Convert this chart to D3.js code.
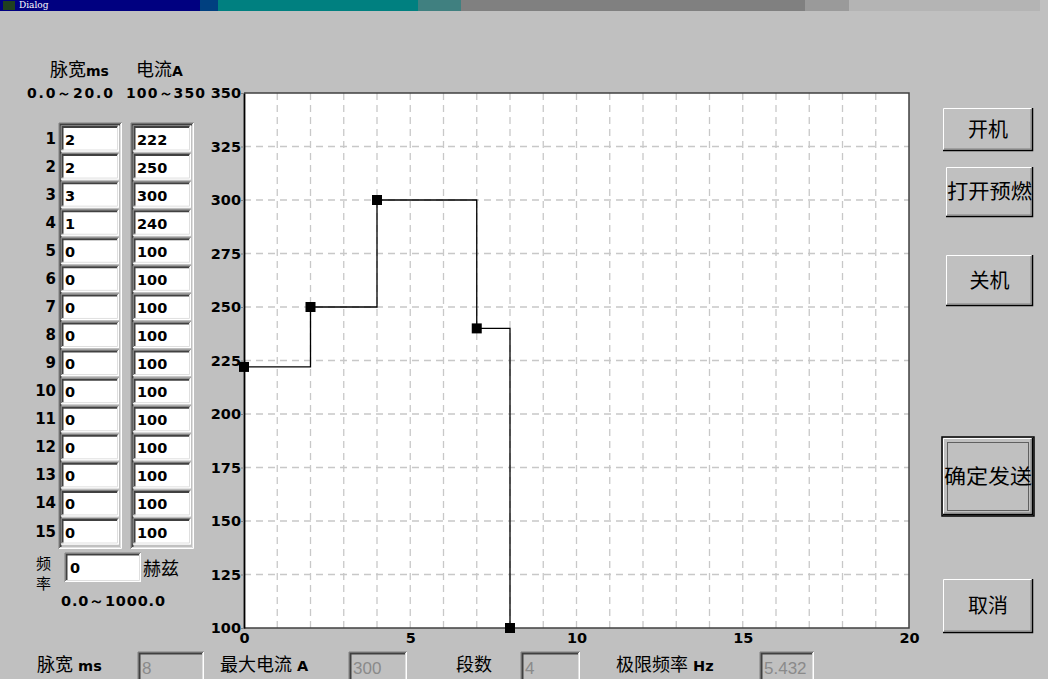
<!DOCTYPE html>
<html><head><meta charset="utf-8">
<script src="https://cdn.jsdelivr.net/npm/d3@7"></script>
<style>
html,body{margin:0;padding:0;background:#c0c0c0;overflow:hidden}
svg{display:block}
</style></head>
<body>
<script>
// ---- data ----
const rowLabels = ["1","2","3","4","5","6","7","8","9","10","11","12","13","14","15"];
const pulseWidths = [2,2,3,1,0,0,0,0,0,0,0,0,0,0,0];
const currents = [222,250,300,240,100,100,100,100,100,100,100,100,100,100,100];
const yTicks = [100,125,150,175,200,225,250,275,300,325,350];
const xTicks = [0,5,10,15,20];
const gridX = d3.range(0,21,1);
const frequency = "0";
const summaryLabels = ["脉宽 ms","最大电流 A","段数","极限频率 Hz"];
const summaryValues = ["8","300","4","5.432"];
const buttonLabels = ["开机","打开预燃","关机","确定发送","取消"];

const W = 1048, H = 679;
const svg = d3.select("body").append("svg").attr("width", W).attr("height", H);
svg.append("rect").attr("width", W).attr("height", H).attr("fill", "#c0c0c0");

const CJK = "'Noto Sans CJK SC', sans-serif";
const NUM = "'DejaVu Sans', sans-serif";

// ---- title bar ----
const tb = svg.append("g");
const segs = [[0,200,"#000080"],[200,218,"#004080"],[218,418,"#008080"],[418,461,"#408080"],[461,805,"#808080"],[805,849,"#9a9a9a"],[849,1040,"#b4b4b4"]];
segs.forEach(s => tb.append("rect").attr("x", s[0]).attr("y", 0).attr("width", s[1]-s[0]).attr("height", 11).attr("fill", s[2]));
tb.append("rect").attr("x", 1040).attr("y", 0).attr("width", 8).attr("height", 11).attr("fill", "#c0c0c0");
tb.append("rect").attr("x", 3).attr("y", 1).attr("width", 12).attr("height", 9).attr("fill", "#204020");
tb.append("text").attr("x", 19).attr("y", 8).attr("fill", "#fff").attr("font-family", "'DejaVu Serif', serif").attr("font-size", 9).text("Dialog");

// ---- helpers ----
function sunken(g, x, y, w, h, fill) {
  g.append("rect").attr("x", x).attr("y", y).attr("width", w).attr("height", h).attr("fill", fill);
  g.append("path").attr("d", `M${x},${y+h} V${y} H${x+w}`).attr("stroke", "#808080").attr("stroke-width", 1).attr("fill", "none");
  g.append("path").attr("d", `M${x+1.5},${y+h-1} V${y+1.5} H${x+w-1}`).attr("stroke", "#404040").attr("stroke-width", 2).attr("fill", "none");
  g.append("path").attr("d", `M${x},${y+h-0.5} H${x+w-0.5} V${y}`).attr("stroke", "#ffffff").attr("stroke-width", 1).attr("fill", "none");
  g.append("path").attr("d", `M${x+1},${y+h-1.5} H${x+w-1.5} V${y+1}`).attr("stroke", "#dfdfdf").attr("stroke-width", 1).attr("fill", "none");
}
function raised(g, x, y, w, h, isDefault) {
  g.append("rect").attr("x", x).attr("y", y).attr("width", w).attr("height", h).attr("fill", "#c0c0c0");
  g.append("path").attr("d", `M${x+0.5},${y+h} V${y+0.5} H${x+w}`).attr("stroke", "#ffffff").attr("fill", "none");
  g.append("path").attr("d", `M${x},${y+h-0.5} H${x+w-0.5} V${y}`).attr("stroke", "#000000").attr("stroke-width", 1.5).attr("fill", "none");
  g.append("path").attr("d", `M${x+1},${y+h-2} H${x+w-2} V${y+1}`).attr("stroke", "#808080").attr("fill", "none");
  if (isDefault) {
    g.append("rect").attr("x", x-1).attr("y", y-1).attr("width", w+2).attr("height", h+2).attr("fill", "none").attr("stroke", "#000").attr("stroke-width", 1.5);
    g.append("rect").attr("x", x+4.5).attr("y", y+4.5).attr("width", w-9).attr("height", h-9).attr("fill", "none").attr("stroke", "#000").attr("stroke-dasharray", "1,1");
  }
}

// ---- left panel ----
const left = svg.append("g");
left.append("text").attr("x", 50).attr("y", 76).attr("font-family", CJK).attr("font-size", 18).attr("fill", "#000")
  .call(t => { t.append("tspan").text("脉宽"); t.append("tspan").attr("font-family", NUM).attr("font-weight", "bold").attr("font-size", 14).text("ms"); });
left.append("text").attr("x", 136).attr("y", 76).attr("font-family", CJK).attr("font-size", 18).attr("fill", "#000")
  .call(t => { t.append("tspan").text("电流"); t.append("tspan").attr("font-family", NUM).attr("font-weight", "bold").attr("font-size", 14).text("A"); });
left.append("text").attr("x", 27).attr("y", 98).attr("font-family", NUM).attr("font-weight", "bold").attr("font-size", 14).attr("textLength", 86).text("0.0～20.0");
left.append("text").attr("x", 126).attr("y", 98).attr("font-family", NUM).attr("font-weight", "bold").attr("font-size", 14).attr("textLength", 79).text("100～350");

const rowY = d3.scaleLinear().domain([0, 14]).range([138.5, 531.5]);
sunken(left, 59, 123, 63, 426, "#c0c0c0");
sunken(left, 131, 123, 63, 426, "#c0c0c0");
rowLabels.forEach((lab, i) => {
  const cy = rowY(i);
  left.append("text").attr("x", 56).attr("y", cy + 5).attr("text-anchor", "end").attr("font-family", NUM).attr("font-weight", "bold").attr("font-size", 15).text(lab);
  sunken(left, 61, cy - 13, 58, 26, "#fff");
  left.append("text").attr("x", 65).attr("y", cy + 6).attr("font-family", NUM).attr("font-weight", "bold").attr("font-size", 14.5).text(pulseWidths[i]);
  sunken(left, 133, cy - 13, 58, 26, "#fff");
  left.append("text").attr("x", 137).attr("y", cy + 6).attr("font-family", NUM).attr("font-weight", "bold").attr("font-size", 14.5).text(currents[i]);
});
left.append("text").attr("x", 36).attr("y", 569).attr("font-family", CJK).attr("font-size", 15).text("频");
left.append("text").attr("x", 36).attr("y", 589).attr("font-family", CJK).attr("font-size", 15).text("率");
sunken(left, 65, 553, 76, 29, "#fff");
left.append("text").attr("x", 70).attr("y", 573).attr("font-family", NUM).attr("font-weight", "bold").attr("font-size", 14.5).text(frequency);
left.append("text").attr("x", 143).attr("y", 575).attr("font-family", CJK).attr("font-size", 18).text("赫兹");
left.append("text").attr("x", 61).attr("y", 606).attr("font-family", NUM).attr("font-weight", "bold").attr("font-size", 14.5).attr("textLength", 104).text("0.0～1000.0");

// ---- chart ----
const plot = {l: 244, r: 909, t: 93, b: 628};
const x = d3.scaleLinear().domain([0, 20]).range([plot.l, plot.r]);
const y = d3.scaleLinear().domain([100, 350]).range([plot.b, plot.t]);
const chart = svg.append("g");
chart.append("rect").attr("x", plot.l).attr("y", plot.t).attr("width", plot.r - plot.l).attr("height", plot.b - plot.t).attr("fill", "#fff");
chart.selectAll(".gx").data(gridX.slice(1, -1)).join("line")
  .attr("x1", d => x(d)).attr("x2", d => x(d)).attr("y1", plot.t).attr("y2", plot.b)
  .attr("stroke", "#c8c8c8").attr("stroke-width", 1.3).attr("stroke-dasharray", "7,5");
chart.selectAll(".gy").data(yTicks.slice(1, -1)).join("line")
  .attr("x1", plot.l).attr("x2", plot.r).attr("y1", d => y(d)).attr("y2", d => y(d))
  .attr("stroke", "#c8c8c8").attr("stroke-width", 1.3).attr("stroke-dasharray", "7,5");
chart.append("path").attr("d", `M${plot.l},${plot.t} H${plot.r} V${plot.b} H${plot.l}`).attr("fill", "none").attr("stroke", "#404040").attr("stroke-width", 1.5);

const yAxis = chart.append("g").attr("transform", `translate(${plot.l},0)`)
  .call(d3.axisLeft(y).tickValues(yTicks).tickSize(3).tickPadding(0).tickSizeOuter(0));
yAxis.select(".domain").attr("stroke", "#000").attr("stroke-width", 1.8);
yAxis.selectAll(".tick line").attr("stroke", "#808080");
yAxis.selectAll("text").attr("font-family", NUM).attr("font-weight", "bold").attr("font-size", 14.5).attr("fill", "#000");

const xAxis = chart.append("g").attr("transform", `translate(0,${plot.b})`)
  .call(d3.axisBottom(x).tickValues(xTicks).tickSize(0).tickPadding(5));
xAxis.select(".domain").remove();
xAxis.selectAll("text").attr("font-family", NUM).attr("font-weight", "bold").attr("font-size", 14.5).attr("fill", "#000");

// step points from the table
const nSeg = +summaryValues[2];
const pts = [];
let t = 0;
for (let i = 0; i < nSeg; i++) { pts.push([t, currents[i]]); t += pulseWidths[i]; }
pts.push([t, currents[nSeg]]);
const line = d3.line().x(d => x(d[0])).y(d => y(d[1])).curve(d3.curveStepAfter);
chart.append("path").datum(pts).attr("d", line).attr("fill", "none").attr("stroke", "#000").attr("stroke-width", 1.3);
chart.selectAll(".pt").data(pts).join("rect")
  .attr("x", d => x(d[0]) - 5).attr("y", d => y(d[1]) - 5).attr("width", 10).attr("height", 10).attr("fill", "#000");

// ---- bottom summary ----
const bottom = svg.append("g");
const sumLabelX = [37, 220, 456, 616];
const sumBox = [[138, 66], [349, 58], [521, 59], [760, 54]];
summaryLabels.forEach((lab, i) => {
  const parts = lab.split(" ");
  const tx = bottom.append("text").attr("x", sumLabelX[i]).attr("y", 671).attr("font-family", CJK).attr("font-size", 18).attr("fill", "#000");
  tx.append("tspan").text(parts[0]);
  if (parts[1]) tx.append("tspan").attr("font-family", NUM).attr("font-weight", "bold").attr("font-size", 14.5).text(" " + parts[1]);
  sunken(bottom, sumBox[i][0], 652, sumBox[i][1], 30, "#c0c0c0");
  bottom.append("text").attr("x", sumBox[i][0] + 4).attr("y", 674).attr("font-family", "'Liberation Sans Narrow', 'Liberation Sans', sans-serif").attr("font-size", 17).attr("fill", "#8a8a8a").text(summaryValues[i]);
});

// ---- buttons ----
const btns = svg.append("g");
const btnBoxes = [[943, 108, 90, 43], [946, 167, 87, 50], [946, 255, 87, 51], [943, 438, 90, 77], [943, 579, 90, 54]];
buttonLabels.forEach((lab, i) => {
  const [bx, by, bw, bh] = btnBoxes[i];
  const g = btns.append("g");
  raised(g, bx, by, bw, bh, i === 3);
  g.append("text").attr("x", bx + bw / 2).attr("y", by + bh / 2 + 7).attr("text-anchor", "middle")
    .attr("font-family", CJK).attr("font-size", 20).attr("fill", "#000")
    .attr("textLength", lab.length === 4 ? bw - 2 : null).attr("lengthAdjust", "spacingAndGlyphs").text(lab);
});
</script>
</body></html>
